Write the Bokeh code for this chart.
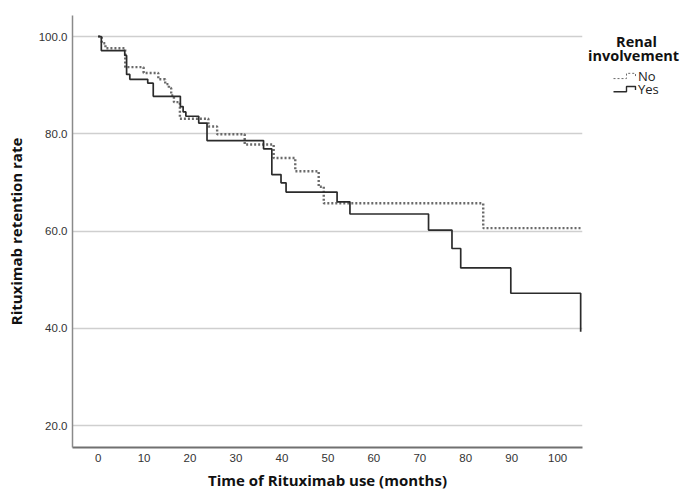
from bokeh.plotting import figure
from bokeh.layouts import row
from bokeh.models import Range1d, FixedTicker, NumeralTickFormatter
from bokeh.core.properties import value
from bokeh.embed import file_html
from bokeh.resources import INLINE

# Kaplan-Meier retention curves (months, retention rate %)
yes_t = [0, 0.7, 5.8, 6.2, 6.9, 10.8, 12.0, 17.9, 18.5, 19.1, 21.9, 23.7, 36.0, 37.8,
         39.8, 40.9, 52.0, 54.8, 71.9, 77.0, 78.9, 89.8, 105.0]
yes_v = [100, 97.1, 96.1, 92.2, 91.2, 90.4, 87.7, 85.6, 84.5, 83.6, 82.2, 78.6, 76.9, 71.6,
         69.9, 68.0, 66.0, 63.5, 60.2, 56.4, 52.4, 47.2, 39.3]

no_t = [0, 0.8, 1.6, 5.9, 9.9, 13.1, 14.6, 15.4, 15.9, 16.5, 17.8, 24.0, 25.9, 31.9,
        38.2, 42.9, 48.0, 49.1, 83.8, 105.3]
no_v = [100, 98.6, 97.6, 93.7, 92.5, 91.2, 90.2, 89.4, 87.9, 86.5, 83.1, 81.5, 79.9, 77.8,
        75.0, 72.3, 69.1, 65.7, 60.6, 60.6]

x_ticks = [0, 10, 20, 30, 40, 50, 60, 70, 80, 90, 100]
y_ticks = [20, 40, 60, 80, 100]
series_names = ["No", "Yes"]
legend_title = ["Renal", "involvement"]

LABEL_FONT = "Open Sans"
TICK_FONT = "Liberation Sans"
NO_COLOR = "#6a6a6a"
YES_COLOR = "#2b2b2b"

p = figure(width=584, height=493, output_backend="svg", toolbar_location=None,
           x_range=Range1d(-5.57, 105.4), y_range=Range1d(15.48, 104.32),
           min_border_left=72, min_border_right=2, min_border_top=15, min_border_bottom=46)
p.outline_line_color = None

p.xgrid.visible = False
p.ygrid.ticker = FixedTicker(ticks=y_ticks)
p.ygrid.grid_line_color = "#cfcfcf"
p.ygrid.grid_line_width = 1.3

p.xaxis.ticker = FixedTicker(ticks=x_ticks)
p.yaxis.ticker = FixedTicker(ticks=y_ticks)
p.yaxis.formatter = NumeralTickFormatter(format="0.0")

for ax in (p.xaxis, p.yaxis):
    ax.major_tick_out = 0
    ax.major_tick_in = 0
    ax.minor_tick_out = 0
    ax.minor_tick_in = 0
    ax.major_label_text_font = TICK_FONT
    ax.major_label_text_font_size = "11.5px"
    ax.major_label_text_color = "#333333"
    ax.axis_label_text_font = LABEL_FONT
    ax.axis_label_text_font_style = "bold"
    ax.axis_label_text_font_size = "15px"
    ax.axis_label_text_color = "#111111"

p.xaxis.axis_line_color = "#707070"
p.xaxis.axis_line_width = 2
p.yaxis.axis_line_color = "#8a8a8a"
p.yaxis.axis_line_width = 1.5
p.xaxis.major_label_standoff = 6
p.yaxis.major_label_standoff = 5
p.xaxis.axis_label = "Time of Rituximab use (months)"
p.yaxis.axis_label = "Rituximab retention rate"
p.xaxis.axis_label_standoff = 5
p.yaxis.axis_label_standoff = 10

p.step(no_t, no_v, mode="after", line_color=NO_COLOR, line_width=2.4, line_dash="2 2")
p.step(yes_t, yes_v, mode="after", line_color=YES_COLOR, line_width=1.7)

# Legend panel (separate small figure, coordinates in pixels from its top-left)
lg = figure(width=101, height=493, output_backend="svg", toolbar_location=None,
            x_range=Range1d(0, 101), y_range=Range1d(493, 0),
            x_axis_type=None, y_axis_type=None, min_border=0)
lg.outline_line_color = None
lg.grid.visible = False

lg.text(x=[52, 49], y=[30, 46], text=legend_title, text_font=value(LABEL_FONT),
        text_font_style="bold", text_font_size="14.5px", text_align="center",
        text_baseline="middle", text_color="#111111")

item_y = [69, 84]
item_colors = [NO_COLOR, YES_COLOR]
item_dash = ["2 2", "solid"]
item_width = [1.0, 1.4]
for yc, name, col, dash, w in zip(item_y, series_names, item_colors, item_dash, item_width):
    lg.line(x=[29, 42, 42, 51, 51], y=[yc + 3, yc + 3, yc - 3, yc - 3, yc + 1],
            line_color=col, line_width=w, line_dash=dash)
    lg.text(x=[53.5], y=[yc], text=[name], text_font=value(LABEL_FONT),
            text_font_size="13px", text_align="left", text_baseline="middle",
            text_color="#222222")

layout = row(p, lg)
open("out.html", "w").write(file_html(layout, INLINE))
